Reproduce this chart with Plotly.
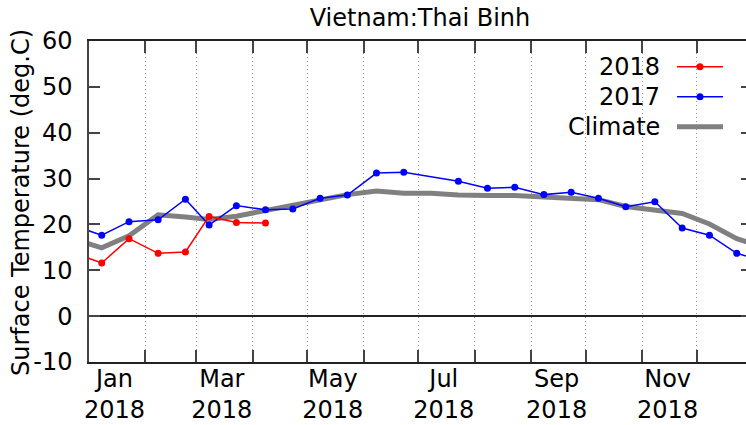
import plotly.graph_objects as go

# ---------------- data ----------------
red_dates = ["2017-12-23", "2018-01-08", "2018-01-23", "2018-02-08", "2018-02-23",
             "2018-03-08", "2018-03-23", "2018-04-08"]
red_vals = [13.9, 11.6, 16.9, 13.7, 14.0, 21.75, 20.4, 20.3]

blue_dates = ["2017-12-23", "2018-01-08", "2018-01-23", "2018-02-08", "2018-02-23",
              "2018-03-08", "2018-03-23", "2018-04-08", "2018-04-23", "2018-05-08",
              "2018-05-23", "2018-06-08", "2018-06-23", "2018-07-23", "2018-08-08",
              "2018-08-23", "2018-09-08", "2018-09-23", "2018-10-08", "2018-10-23",
              "2018-11-08", "2018-11-23", "2018-12-08", "2018-12-23", "2019-01-08"]
blue_vals = [19.8, 17.65, 20.6, 21.0, 25.5, 19.85, 24.1, 23.2, 23.35, 25.7,
             26.4, 31.2, 31.4, 29.4, 27.9, 28.1, 26.5, 27.0, 25.7, 23.85,
             24.95, 19.2, 17.65, 13.7, 11.8]

clim_dates = ["2017-12-23", "2018-01-08", "2018-01-23", "2018-02-08", "2018-02-23",
              "2018-03-08", "2018-03-23", "2018-04-08", "2018-04-23", "2018-05-08",
              "2018-05-23", "2018-06-08", "2018-06-23", "2018-07-08", "2018-07-23",
              "2018-08-08", "2018-08-23", "2018-09-08", "2018-09-23", "2018-10-08",
              "2018-10-23", "2018-11-08", "2018-11-23", "2018-12-08", "2018-12-23",
              "2019-01-08"]
clim_vals = [16.9, 14.9, 17.5, 22.1, 21.6, 21.1, 21.8, 23.0, 24.3, 25.4,
             26.5, 27.3, 26.8, 26.8, 26.4, 26.3, 26.3, 26.0, 25.75, 25.4,
             23.9, 23.2, 22.4, 20.1, 16.9, 14.9]

month_starts = ["2018-02-01", "2018-03-01", "2018-04-01", "2018-05-01", "2018-06-01",
                "2018-07-01", "2018-08-01", "2018-09-01", "2018-10-01", "2018-11-01",
                "2018-12-01"]
label_dates = ["2018-01-15", "2018-03-15", "2018-05-15", "2018-07-15", "2018-09-15",
               "2018-11-15"]
label_text = ["Jan<br>2018", "Mar<br>2018", "May<br>2018", "Jul<br>2018", "Sep<br>2018",
              "Nov<br>2018"]
y_ticks = [-10, 0, 10, 20, 30, 40, 50, 60]
y_tick_text = ["-10", "0", "10", "20", "30", "40", "50", "60"]

series_names = ["2018", "2017", "Climate"]
series_colors = ["#ff0000", "#0000ff", "#808080"]

x_range = ["2018-01-01", "2018-12-28 02:00"]
y_range = [-10, 60]

FONT = "DejaVu Sans"
FS = 24
W, H = 746, 425
ML, MR, MT, MB = 89, 0, 41, 63
PW, PH = W - ML - MR, H - MT - MB

fig = go.Figure()
fig.add_trace(go.Scatter(x=clim_dates, y=clim_vals, mode="lines",
                         line=dict(color=series_colors[2], width=5),
                         name=series_names[2], hoverinfo="skip"))
fig.add_trace(go.Scatter(x=blue_dates, y=blue_vals, mode="lines+markers",
                         line=dict(color=series_colors[1], width=1.5),
                         marker=dict(size=7, color=series_colors[1]),
                         name=series_names[1]))
fig.add_trace(go.Scatter(x=red_dates, y=red_vals, mode="lines+markers",
                         line=dict(color=series_colors[0], width=1.5),
                         marker=dict(size=7, color=series_colors[0]),
                         name=series_names[0]))
# invisible helper trace on the label axes
fig.add_trace(go.Scatter(x=clim_dates, y=clim_vals, xaxis="x2", yaxis="y2",
                         mode="lines", opacity=0, hoverinfo="skip", showlegend=False))

fig.update_layout(
    width=W, height=H, autosize=False,
    margin=dict(l=ML, r=MR, t=MT, b=MB),
    paper_bgcolor="white", plot_bgcolor="white",
    showlegend=False,
    font=dict(family=FONT, size=FS, color="black"),
    title=dict(text="Vietnam:Thai Binh", x=420 / W,
               xanchor="center", y=1 - 18 / H, yanchor="middle",
               font=dict(family=FONT, size=FS, color="black")),
    xaxis=dict(type="date", range=x_range, tickvals=month_starts,
               showticklabels=False, ticks="inside", ticklen=12, tickwidth=1.5,
               tickcolor="#444", showgrid=True, gridcolor="#999", griddash="1px,3px",
               gridwidth=1, showline=True, linecolor="#222", linewidth=1.5,
               mirror="ticks", zeroline=False),
    xaxis2=dict(type="date", range=x_range, overlaying="x", anchor="y", side="bottom",
                tickvals=label_dates, ticktext=label_text, ticks="", showgrid=False,
                showline=False, zeroline=False,
                tickfont=dict(family=FONT, size=FS, color="black")),
    yaxis=dict(range=y_range, tickvals=y_ticks, ticktext=y_tick_text,
               ticks="inside", ticklen=11,
               tickwidth=1.5, tickcolor="#444", showgrid=False, showline=True,
               linecolor="#444", linewidth=1.5, mirror=False,
               zeroline=True, zerolinecolor="#222", zerolinewidth=1.5,
               ticklabelstandoff=10,
               tickfont=dict(family=FONT, size=FS, color="black")),
    yaxis2=dict(range=y_range, overlaying="y", anchor="x", side="right",
                tickvals=y_ticks, ticks="inside", ticklen=5, tickwidth=1.5,
                tickcolor="#444", showticklabels=False, showgrid=False,
                showline=False, zeroline=False),
)

# y-axis title
fig.add_annotation(text="Surface Temperature (deg.C)", xref="paper", yref="paper",
                   x=(21 - ML) / PW, y=(H - MB - 203) / PH, textangle=-90,
                   showarrow=False, xanchor="center", yanchor="middle",
                   font=dict(family=FONT, size=FS, color="black"))

# legend (text left, sample right)
def px(xp):
    return (xp - ML) / PW

def py(yp):
    return (H - MB - yp) / PH

leg_rows = [66.7, 96.7, 126.7]
for name, col, yrow in zip(series_names, series_colors, leg_rows):
    fig.add_annotation(text=name, xref="paper", yref="paper", x=px(662), y=py(yrow),
                       xanchor="right", yanchor="middle", showarrow=False,
                       font=dict(family=FONT, size=FS, color="black"))
    lw = 5 if name == "Climate" else 1.5
    fig.add_shape(type="line", xref="paper", yref="paper", x0=px(677), x1=px(723),
                  y0=py(yrow), y1=py(yrow), line=dict(color=col, width=lw))
    if name != "Climate":
        r = 3.5
        fig.add_shape(type="circle", xref="paper", yref="paper",
                      x0=px(700 - r), x1=px(700 + r), y0=py(yrow + r), y1=py(yrow - r),
                      fillcolor=col, line=dict(color=col, width=0))

fig.write_html("out.html",
               config={"displayModeBar": False},
               post_script="document.body.style.margin='0';"
                           "document.body.style.overflow='hidden';")
